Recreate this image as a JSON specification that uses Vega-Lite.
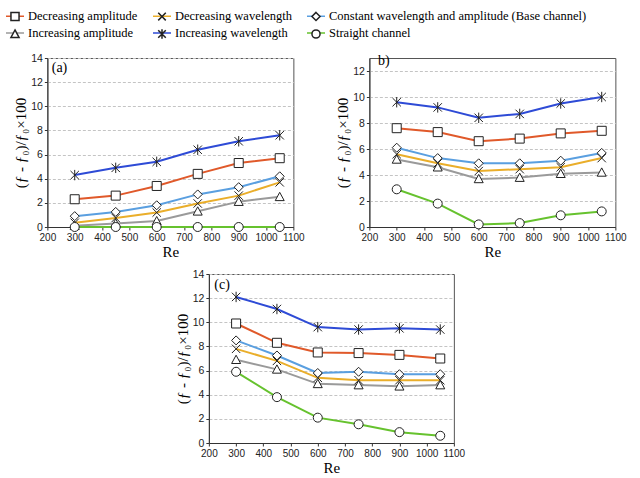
{
  "$schema": "https://vega.github.io/schema/vega-lite/v6.json",
  "background": "white",
  "padding": {"left": 5, "top": 6, "right": 5, "bottom": 5},
  "datasets": {
    "vals": [
      {"panel": "a", "series": "Decreasing amplitude", "marker": "Decreasing amplitude", "Re": 300, "v": 2.3},
      {"panel": "a", "series": "Decreasing amplitude", "marker": "Decreasing amplitude", "Re": 450, "v": 2.6},
      {"panel": "a", "series": "Decreasing amplitude", "marker": "Decreasing amplitude", "Re": 600, "v": 3.4},
      {"panel": "a", "series": "Decreasing amplitude", "marker": "Decreasing amplitude", "Re": 750, "v": 4.4},
      {"panel": "a", "series": "Decreasing amplitude", "marker": "Decreasing amplitude", "Re": 900, "v": 5.3},
      {"panel": "a", "series": "Decreasing amplitude", "marker": "Decreasing amplitude", "Re": 1050, "v": 5.7},
      {"panel": "a", "series": "Decreasing wavelength", "marker": "Decreasing wavelength", "Re": 300, "v": 0.35},
      {"panel": "a", "series": "Decreasing wavelength", "marker": "Decreasing wavelength", "Re": 450, "v": 0.75},
      {"panel": "a", "series": "Decreasing wavelength", "marker": "Decreasing wavelength", "Re": 600, "v": 1.2},
      {"panel": "a", "series": "Decreasing wavelength", "marker": "Decreasing wavelength", "Re": 750, "v": 1.95},
      {"panel": "a", "series": "Decreasing wavelength", "marker": "Decreasing wavelength", "Re": 900, "v": 2.6},
      {"panel": "a", "series": "Decreasing wavelength", "marker": "Decreasing wavelength", "Re": 1050, "v": 3.7},
      {"panel": "a", "series": "Constant wavelength and amplitude (Base channel)", "marker": "Constant wavelength and amplitude (Base channel)", "Re": 300, "v": 0.9},
      {"panel": "a", "series": "Constant wavelength and amplitude (Base channel)", "marker": "Constant wavelength and amplitude (Base channel)", "Re": 450, "v": 1.25},
      {"panel": "a", "series": "Constant wavelength and amplitude (Base channel)", "marker": "Constant wavelength and amplitude (Base channel)", "Re": 600, "v": 1.8},
      {"panel": "a", "series": "Constant wavelength and amplitude (Base channel)", "marker": "Constant wavelength and amplitude (Base channel)", "Re": 750, "v": 2.7},
      {"panel": "a", "series": "Constant wavelength and amplitude (Base channel)", "marker": "Constant wavelength and amplitude (Base channel)", "Re": 900, "v": 3.3},
      {"panel": "a", "series": "Constant wavelength and amplitude (Base channel)", "marker": "Constant wavelength and amplitude (Base channel)", "Re": 1050, "v": 4.2},
      {"panel": "a", "series": "Increasing amplitude", "marker": "Increasing amplitude", "Re": 300, "v": 0.1},
      {"panel": "a", "series": "Increasing amplitude", "marker": "Increasing amplitude", "Re": 450, "v": 0.3},
      {"panel": "a", "series": "Increasing amplitude", "marker": "Increasing amplitude", "Re": 600, "v": 0.5},
      {"panel": "a", "series": "Increasing amplitude", "marker": "Increasing amplitude", "Re": 750, "v": 1.3},
      {"panel": "a", "series": "Increasing amplitude", "marker": "Increasing amplitude", "Re": 900, "v": 2.1},
      {"panel": "a", "series": "Increasing amplitude", "marker": "Increasing amplitude", "Re": 1050, "v": 2.5},
      {"panel": "a", "series": "Increasing wavelength", "marker": "Increasing wavelength", "Re": 300, "v": 4.3},
      {"panel": "a", "series": "Increasing wavelength", "marker": "Increasing wavelength", "Re": 450, "v": 4.9},
      {"panel": "a", "series": "Increasing wavelength", "marker": "Increasing wavelength", "Re": 600, "v": 5.4},
      {"panel": "a", "series": "Increasing wavelength", "marker": "Increasing wavelength", "Re": 750, "v": 6.4},
      {"panel": "a", "series": "Increasing wavelength", "marker": "Increasing wavelength", "Re": 900, "v": 7.1},
      {"panel": "a", "series": "Increasing wavelength", "marker": "Increasing wavelength", "Re": 1050, "v": 7.6},
      {"panel": "a", "series": "Straight channel", "marker": "Straight channel", "Re": 300, "v": 0},
      {"panel": "a", "series": "Straight channel", "marker": "Straight channel", "Re": 450, "v": 0},
      {"panel": "a", "series": "Straight channel", "marker": "Straight channel", "Re": 600, "v": 0},
      {"panel": "a", "series": "Straight channel", "marker": "Straight channel", "Re": 750, "v": 0},
      {"panel": "a", "series": "Straight channel", "marker": "Straight channel", "Re": 900, "v": 0},
      {"panel": "a", "series": "Straight channel", "marker": "Straight channel", "Re": 1050, "v": 0},

      {"panel": "b", "series": "Decreasing amplitude", "marker": "Decreasing amplitude", "Re": 300, "v": 7.6},
      {"panel": "b", "series": "Decreasing amplitude", "marker": "Decreasing amplitude", "Re": 450, "v": 7.3},
      {"panel": "b", "series": "Decreasing amplitude", "marker": "Decreasing amplitude", "Re": 600, "v": 6.6},
      {"panel": "b", "series": "Decreasing amplitude", "marker": "Decreasing amplitude", "Re": 750, "v": 6.8},
      {"panel": "b", "series": "Decreasing amplitude", "marker": "Decreasing amplitude", "Re": 900, "v": 7.2},
      {"panel": "b", "series": "Decreasing amplitude", "marker": "Decreasing amplitude", "Re": 1050, "v": 7.4},
      {"panel": "b", "series": "Decreasing wavelength", "marker": "Decreasing wavelength", "Re": 300, "v": 5.6},
      {"panel": "b", "series": "Decreasing wavelength", "marker": "Decreasing wavelength", "Re": 450, "v": 4.9},
      {"panel": "b", "series": "Decreasing wavelength", "marker": "Decreasing wavelength", "Re": 600, "v": 4.3},
      {"panel": "b", "series": "Decreasing wavelength", "marker": "Decreasing wavelength", "Re": 750, "v": 4.45},
      {"panel": "b", "series": "Decreasing wavelength", "marker": "Decreasing wavelength", "Re": 900, "v": 4.6},
      {"panel": "b", "series": "Decreasing wavelength", "marker": "Decreasing wavelength", "Re": 1050, "v": 5.3},
      {"panel": "b", "series": "Constant wavelength and amplitude (Base channel)", "marker": "Constant wavelength and amplitude (Base channel)", "Re": 300, "v": 6.1},
      {"panel": "b", "series": "Constant wavelength and amplitude (Base channel)", "marker": "Constant wavelength and amplitude (Base channel)", "Re": 450, "v": 5.3},
      {"panel": "b", "series": "Constant wavelength and amplitude (Base channel)", "marker": "Constant wavelength and amplitude (Base channel)", "Re": 600, "v": 4.9},
      {"panel": "b", "series": "Constant wavelength and amplitude (Base channel)", "marker": "Constant wavelength and amplitude (Base channel)", "Re": 750, "v": 4.9},
      {"panel": "b", "series": "Constant wavelength and amplitude (Base channel)", "marker": "Constant wavelength and amplitude (Base channel)", "Re": 900, "v": 5.1},
      {"panel": "b", "series": "Constant wavelength and amplitude (Base channel)", "marker": "Constant wavelength and amplitude (Base channel)", "Re": 1050, "v": 5.7},
      {"panel": "b", "series": "Increasing amplitude", "marker": "Increasing amplitude", "Re": 300, "v": 5.2},
      {"panel": "b", "series": "Increasing amplitude", "marker": "Increasing amplitude", "Re": 450, "v": 4.6},
      {"panel": "b", "series": "Increasing amplitude", "marker": "Increasing amplitude", "Re": 600, "v": 3.7},
      {"panel": "b", "series": "Increasing amplitude", "marker": "Increasing amplitude", "Re": 750, "v": 3.8},
      {"panel": "b", "series": "Increasing amplitude", "marker": "Increasing amplitude", "Re": 900, "v": 4.1},
      {"panel": "b", "series": "Increasing amplitude", "marker": "Increasing amplitude", "Re": 1050, "v": 4.2},
      {"panel": "b", "series": "Increasing wavelength", "marker": "Increasing wavelength", "Re": 300, "v": 9.6},
      {"panel": "b", "series": "Increasing wavelength", "marker": "Increasing wavelength", "Re": 450, "v": 9.2},
      {"panel": "b", "series": "Increasing wavelength", "marker": "Increasing wavelength", "Re": 600, "v": 8.4},
      {"panel": "b", "series": "Increasing wavelength", "marker": "Increasing wavelength", "Re": 750, "v": 8.7},
      {"panel": "b", "series": "Increasing wavelength", "marker": "Increasing wavelength", "Re": 900, "v": 9.5},
      {"panel": "b", "series": "Increasing wavelength", "marker": "Increasing wavelength", "Re": 1050, "v": 10.0},
      {"panel": "b", "series": "Straight channel", "marker": "Straight channel", "Re": 300, "v": 2.9},
      {"panel": "b", "series": "Straight channel", "marker": "Straight channel", "Re": 450, "v": 1.8},
      {"panel": "b", "series": "Straight channel", "marker": "Straight channel", "Re": 600, "v": 0.2},
      {"panel": "b", "series": "Straight channel", "marker": "Straight channel", "Re": 750, "v": 0.3},
      {"panel": "b", "series": "Straight channel", "marker": "Straight channel", "Re": 900, "v": 0.9},
      {"panel": "b", "series": "Straight channel", "marker": "Straight channel", "Re": 1050, "v": 1.2},

      {"panel": "c", "series": "Decreasing amplitude", "marker": "Decreasing amplitude", "Re": 300, "v": 9.9},
      {"panel": "c", "series": "Decreasing amplitude", "marker": "Decreasing amplitude", "Re": 450, "v": 8.3},
      {"panel": "c", "series": "Decreasing amplitude", "marker": "Decreasing amplitude", "Re": 600, "v": 7.5},
      {"panel": "c", "series": "Decreasing amplitude", "marker": "Decreasing amplitude", "Re": 750, "v": 7.45},
      {"panel": "c", "series": "Decreasing amplitude", "marker": "Decreasing amplitude", "Re": 900, "v": 7.3},
      {"panel": "c", "series": "Decreasing amplitude", "marker": "Decreasing amplitude", "Re": 1050, "v": 7.0},
      {"panel": "c", "series": "Decreasing wavelength", "marker": "Decreasing wavelength", "Re": 300, "v": 7.8},
      {"panel": "c", "series": "Decreasing wavelength", "marker": "Decreasing wavelength", "Re": 450, "v": 6.8},
      {"panel": "c", "series": "Decreasing wavelength", "marker": "Decreasing wavelength", "Re": 600, "v": 5.4},
      {"panel": "c", "series": "Decreasing wavelength", "marker": "Decreasing wavelength", "Re": 750, "v": 5.2},
      {"panel": "c", "series": "Decreasing wavelength", "marker": "Decreasing wavelength", "Re": 900, "v": 5.2},
      {"panel": "c", "series": "Decreasing wavelength", "marker": "Decreasing wavelength", "Re": 1050, "v": 5.2},
      {"panel": "c", "series": "Constant wavelength and amplitude (Base channel)", "marker": "Constant wavelength and amplitude (Base channel)", "Re": 300, "v": 8.5},
      {"panel": "c", "series": "Constant wavelength and amplitude (Base channel)", "marker": "Constant wavelength and amplitude (Base channel)", "Re": 450, "v": 7.25},
      {"panel": "c", "series": "Constant wavelength and amplitude (Base channel)", "marker": "Constant wavelength and amplitude (Base channel)", "Re": 600, "v": 5.8},
      {"panel": "c", "series": "Constant wavelength and amplitude (Base channel)", "marker": "Constant wavelength and amplitude (Base channel)", "Re": 750, "v": 5.9},
      {"panel": "c", "series": "Constant wavelength and amplitude (Base channel)", "marker": "Constant wavelength and amplitude (Base channel)", "Re": 900, "v": 5.7},
      {"panel": "c", "series": "Constant wavelength and amplitude (Base channel)", "marker": "Constant wavelength and amplitude (Base channel)", "Re": 1050, "v": 5.7},
      {"panel": "c", "series": "Increasing amplitude", "marker": "Increasing amplitude", "Re": 300, "v": 6.9},
      {"panel": "c", "series": "Increasing amplitude", "marker": "Increasing amplitude", "Re": 450, "v": 6.1},
      {"panel": "c", "series": "Increasing amplitude", "marker": "Increasing amplitude", "Re": 600, "v": 4.9},
      {"panel": "c", "series": "Increasing amplitude", "marker": "Increasing amplitude", "Re": 750, "v": 4.8},
      {"panel": "c", "series": "Increasing amplitude", "marker": "Increasing amplitude", "Re": 900, "v": 4.7},
      {"panel": "c", "series": "Increasing amplitude", "marker": "Increasing amplitude", "Re": 1050, "v": 4.8},
      {"panel": "c", "series": "Increasing wavelength", "marker": "Increasing wavelength", "Re": 300, "v": 12.1},
      {"panel": "c", "series": "Increasing wavelength", "marker": "Increasing wavelength", "Re": 450, "v": 11.1},
      {"panel": "c", "series": "Increasing wavelength", "marker": "Increasing wavelength", "Re": 600, "v": 9.6},
      {"panel": "c", "series": "Increasing wavelength", "marker": "Increasing wavelength", "Re": 750, "v": 9.4},
      {"panel": "c", "series": "Increasing wavelength", "marker": "Increasing wavelength", "Re": 900, "v": 9.5},
      {"panel": "c", "series": "Increasing wavelength", "marker": "Increasing wavelength", "Re": 1050, "v": 9.4},
      {"panel": "c", "series": "Straight channel", "marker": "Straight channel", "Re": 300, "v": 5.9},
      {"panel": "c", "series": "Straight channel", "marker": "Straight channel", "Re": 450, "v": 3.8},
      {"panel": "c", "series": "Straight channel", "marker": "Straight channel", "Re": 600, "v": 2.1},
      {"panel": "c", "series": "Straight channel", "marker": "Straight channel", "Re": 750, "v": 1.55},
      {"panel": "c", "series": "Straight channel", "marker": "Straight channel", "Re": 900, "v": 0.9},
      {"panel": "c", "series": "Straight channel", "marker": "Straight channel", "Re": 1050, "v": 0.6}
    ],
    "labels": [
      {"panel": "a", "Re": 216, "v": 13.2, "t": "(a)"},
      {"panel": "b", "Re": 232, "v": 12.8, "t": "b)"},
      {"panel": "c", "Re": 220, "v": 13.1, "t": "(c)"}
    ]
  },
  "vconcat": [
    {
      "hconcat": [
        {
          "width": 246, "height": 169,
          "data": {"name": "vals"},
          "transform": [{"filter": "datum.panel == 'a'"}],
          "encoding": {
            "x": {"field": "Re", "type": "quantitative", "title": "Re"},
            "y": {"field": "v", "type": "quantitative", "title": "(ƒ - ƒ₀)/ƒ₀×100"}
          },
          "layer": [
            {
              "mark": {"type": "line", "strokeWidth": 2},
              "encoding": {"color": {"field": "series", "type": "nominal", "scale": {"domain": ["Decreasing amplitude", "Decreasing wavelength", "Constant wavelength and amplitude (Base channel)", "Increasing amplitude", "Increasing wavelength", "Straight channel"]}}}
            },
            {
              "mark": {"type": "point", "size": 400, "fill": "white", "stroke": "#222", "strokeWidth": 1, "opacity": 1},
              "encoding": {"shape": {"field": "marker", "type": "nominal", "sort": ["Decreasing amplitude", "Decreasing wavelength", "Constant wavelength and amplitude (Base channel)", "Increasing amplitude", "Increasing wavelength", "Straight channel"], "legend": {"labelOpacity": 0}}}
            },
            {
              "data": {"name": "labels"},
              "transform": [{"filter": "datum.panel == 'a'"}],
              "mark": {"type": "text", "align": "left", "baseline": "middle", "font": "Liberation Serif", "fontSize": 14, "color": "black"},
              "encoding": {"text": {"field": "t"}}
            }
          ]
        },
        {
          "width": 246, "height": 169,
          "data": {"name": "vals"},
          "transform": [{"filter": "datum.panel == 'b'"}],
          "encoding": {
            "x": {"field": "Re", "type": "quantitative", "title": "Re"},
            "y": {"field": "v", "type": "quantitative", "title": "(ƒ - ƒ₀)/ƒ₀×100"}
          },
          "layer": [
            {
              "mark": {"type": "line", "strokeWidth": 2},
              "encoding": {"color": {"field": "series", "type": "nominal", "scale": {"domain": ["Decreasing amplitude", "Decreasing wavelength", "Constant wavelength and amplitude (Base channel)", "Increasing amplitude", "Increasing wavelength", "Straight channel"]}}}
            },
            {
              "mark": {"type": "point", "size": 400, "fill": "white", "stroke": "#222", "strokeWidth": 1, "opacity": 1},
              "encoding": {"shape": {"field": "marker", "type": "nominal", "sort": ["Decreasing amplitude", "Decreasing wavelength", "Constant wavelength and amplitude (Base channel)", "Increasing amplitude", "Increasing wavelength", "Straight channel"], "legend": {"labelOpacity": 0}}}
            },
            {
              "data": {"name": "labels"},
              "transform": [{"filter": "datum.panel == 'b'"}],
              "mark": {"type": "text", "align": "left", "baseline": "middle", "font": "Liberation Serif", "fontSize": 14, "color": "black"},
              "encoding": {"text": {"field": "t"}}
            }
          ]
        }
      ],
      "spacing": 29
    },
    {
      "width": 245, "height": 169,
      "data": {"name": "vals"},
      "transform": [{"filter": "datum.panel == 'c'"}],
      "encoding": {
        "x": {"field": "Re", "type": "quantitative", "title": "Re"},
        "y": {"field": "v", "type": "quantitative", "title": "(ƒ - ƒ₀)/ƒ₀×100"}
      },
      "layer": [
        {
          "mark": {"type": "line", "strokeWidth": 2},
          "encoding": {"color": {"field": "series", "type": "nominal", "scale": {"domain": ["Decreasing amplitude", "Decreasing wavelength", "Constant wavelength and amplitude (Base channel)", "Increasing amplitude", "Increasing wavelength", "Straight channel"]}}}
        },
        {
          "mark": {"type": "point", "size": 400, "fill": "white", "stroke": "#222", "strokeWidth": 1, "opacity": 1},
          "encoding": {"shape": {"field": "marker", "type": "nominal", "sort": ["Decreasing amplitude", "Decreasing wavelength", "Constant wavelength and amplitude (Base channel)", "Increasing amplitude", "Increasing wavelength", "Straight channel"], "legend": {"labelOpacity": 0}}}
        },
        {
          "data": {"name": "labels"},
          "transform": [{"filter": "datum.panel == 'c'"}],
          "mark": {"type": "text", "align": "left", "baseline": "middle", "font": "Liberation Serif", "fontSize": 14, "color": "black"},
          "encoding": {"text": {"field": "t"}}
        }
      ]
    }
  ],
  "center": true,
  "spacing": 8,
  "resolve": {"scale": {"x": "independent", "y": "independent"}},
  "config": {
    "view": {"stroke": "#555", "strokeWidth": 1},
    "scale": {"x": {"domain": [200, 1100], "nice": false, "zero": false}},
    "range": {
      "category": ["#E0592A", "#EAAE2A", "#5A9FE0", "#9A9A9A", "#2E4BD6", "#66C22E"],
      "symbol": [
        "M-0.45,-0.45H0.45V0.45H-0.45ZM-1,0M1,0",
        "M-0.42,-0.42L0.42,0.42M-0.42,0.42L0.42,-0.42M-1,0M1,0",
        "M0,-0.45L0.45,0L0,0.45L-0.45,0ZM-1,0M1,0",
        "M0,-0.45L0.45,0.38H-0.45ZM-1,0M1,0",
        "M-0.42,-0.42L0.42,0.42M-0.42,0.42L0.42,-0.42M0,-0.52V0.52M-1,0M1,0",
        "M-0.45,0A0.45,0.45,0,1,0,0.45,0A0.45,0.45,0,1,0,-0.45,0ZM-1,0M1,0"
      ]
    },
    "axisX": {
      "values": [200, 300, 400, 500, 600, 700, 800, 900, 1000, 1100],
      "format": "d", "grid": false, "labelOverlap": false, "labelFontSize": 10, "labelFlush": false
    },
    "axisY": {
      "values": [0, 2, 4, 6, 8, 10, 12, 14],
      "grid": true, "gridDash": [3, 2], "gridColor": "#c4c4c4"
    },
    "axis": {
      "labelFont": "Liberation Sans", "labelFontSize": 10.5, "labelColor": "#222",
      "titleFont": "Liberation Serif", "titleFontSize": 15, "titleFontWeight": "normal", "titleColor": "black",
      "domainColor": "#333", "tickColor": "#333", "tickSize": 3, "labelPadding": 2, "titlePadding": 2
    },
    "legend": {
      "orient": "none", "legendX": -42, "legendY": -52, "columns": 3, "direction": "horizontal", "title": null,
      "symbolSize": 324, "labelFont": "Liberation Serif", "labelFontSize": 12.5, "labelColor": "black",
      "labelLimit": 0, "columnPadding": 12, "rowPadding": 0, "labelOffset": 3
    },
    "point": {"size": 400}
  }
}
